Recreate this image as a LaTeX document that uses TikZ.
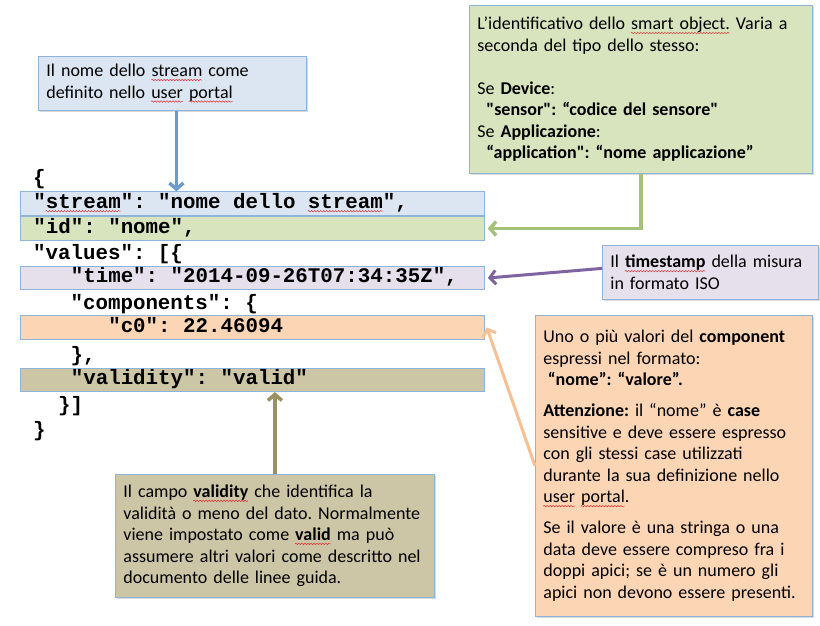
\documentclass[tikz,border=0pt]{standalone}
\usepackage{fontspec}
\setmainfont{Carlito}
\newfontfamily\quotefont{Carlito}
\newfontfamily\jsonfont{Liberation Mono}
\usetikzlibrary{arrows.meta,shadows,decorations.pathmorphing}

\definecolor{streamfill}{HTML}{DCE6F2}
\definecolor{idfill}{HTML}{D7E4BD}
\definecolor{timefill}{HTML}{E5E0EC}
\definecolor{compfill}{HTML}{FCD5B5}
\definecolor{validfill}{HTML}{CCC5A6}
\definecolor{boxline}{HTML}{8EB4DA}
\definecolor{streamarrow}{HTML}{6A9BCB}
\definecolor{idarrow}{HTML}{A6C27A}
\definecolor{timearrow}{HTML}{8064A2}
\definecolor{comparrow}{HTML}{F7BF93}
\definecolor{validarrow}{HTML}{9A9060}
\definecolor{spellred}{HTML}{E03030}

% sottolineatura ondulata rossa (correttore)
\newsavebox\splbox
\newcommand\spl[1]{\sbox\splbox{#1}\usebox\splbox\llap{\tikz[baseline=0pt]
    \draw[spellred, line width=0.5pt, decorate, decoration={snake, amplitude=0.7pt, segment length=3pt}]
    (0pt,-3.2pt) -- (\wd\splbox,-3.2pt);}}

\newcommand\boxfont{\fontsize{18}{21.5}\selectfont\frenchspacing\hyphenpenalty=10000\relax}
\newcommand\codesize{\jsonfont\bfseries\fontsize{20.8}{24}\selectfont}
\newcommand\gap{\hspace*{0.6em}}% uno spazio monospaziato
\newcommand\dq{{\quotefont"}}

\begin{document}
\begin{tikzpicture}[x=1pt, y=-1pt,
    note/.style={draw=boxline, line width=0.8pt, anchor=north west,
        inner xsep=8pt, font=\boxfont,
        drop shadow={shadow xshift=1.5pt, shadow yshift=-1.5pt, opacity=0.3}},
    codeline/.style={anchor=west, text width=438pt, inner xsep=13pt, inner ysep=2.25pt,
        text height=14pt, text depth=5pt, font=\codesize},
    row/.style={codeline, draw=boxline, line width=0.8pt},
    link/.style={line width=3.5pt, -{Straight Barb[length=6pt,width=14pt]}}]
    \useasboundingbox (0,0) rectangle (820,626);

    % Riquadri di commento
    \node[note, fill=streamfill, minimum width=268pt, minimum height=54pt, text width=252pt] (namebox) at (38,56)
        {Il nome dello \spl{stream} come\\ definito nello \spl{user} \spl{portal}};
    \node[note, fill=idfill, minimum width=343pt, minimum height=168pt, text width=327pt] (idbox) at (469,5)
        {L’identificativo dello \spl{smart object.} Varia a\\
         seconda del tipo dello stesso:\\[21.5pt]
         Se \textbf{Device}:\\
         \hspace*{0.5em}\textbf{\dq sensor\dq: “codice del sensore\dq}\\
         Se \textbf{Applicazione}:\\
         \hspace*{0.5em}\textbf{“application\dq: “nome applicazione”}};
    \node[note, fill=timefill, minimum width=216pt, minimum height=54pt, text width=200pt] (tsbox) at (602,245)
        {Il \textbf{\spl{timestamp}} della misura\\ in formato ISO};
    \node[note, fill=compfill, minimum width=277pt, minimum height=301pt, text width=261pt] (compbox) at (535,315)
        {Uno o più valori del \textbf{component}\\
         espressi nel formato:\\
         \hspace*{0.25em}\textbf{“nome”: “valore”.}\\[9.5pt]
         \textbf{Attenzione:} il “nome” è \textbf{case}\\
         sensitive e deve essere espresso\\
         con gli stessi case utilizzati\\
         durante la sua definizione nello\\
         \spl{user} \spl{portal}.\\[9.5pt]
         Se il valore è una stringa o una\\
         data deve essere compreso fra i\\
         doppi apici; se è un numero gli\\
         apici non devono essere presenti.};
    \node[note, fill=validfill, minimum width=319pt, minimum height=123pt, text width=303pt] (validbox) at (115,474)
        {Il campo \textbf{\spl{validity}} che identifica la\\
         validità o meno del dato. Normalmente\\
         viene impostato come \textbf{\spl{valid}} ma può\\
         assumere altri valori come descritto nel\\
         documento delle linee guida.};

    % Messaggio JSON
    \node[codeline] (open) at (20,180) {\{};
    \node[row, fill=streamfill] (stream) at (20,203.5) {"\spl{stream}":\gap"nome\gap dello\gap\spl{stream}",};
    \node[row, fill=idfill] (id) at (20,228.5) {"id":\gap"nome",};
    \node[codeline] (values) at (20,255) {"values":\gap[\{};
    \node[row, fill=timefill] (time) at (20,278) {\hspace*{1.8em}"time":\gap"2014-09-26T07:34:35Z",};
    \node[codeline] (components) at (20,305) {\hspace*{1.8em}"components":\gap\{};
    \node[row, fill=compfill] (c0) at (20,327.5) {\hspace*{3.6em}"c0":\gap 22.46094};
    \node[codeline] (closecomp) at (20,357) {\hspace*{1.8em}\},};
    \node[row, fill=validfill] (validity) at (20,380) {\hspace*{1.8em}"validity":\gap"valid"};
    \node[codeline] (closevalues) at (20,407) {\hspace*{1.2em}\}]};
    \node[codeline] (close) at (20,432) {\}};

    % Frecce
    \draw[link, streamarrow] ([xshift=4pt]namebox.south) -- ([xshift=4pt]namebox.south |- stream.north);
    \draw[link, idarrow] (idbox.south) |- ([xshift=3pt]id.east);
    \draw[link, timearrow, line width=3pt] ([yshift=4pt]tsbox.west) -- ([xshift=3pt]time.east);
    \draw[link, comparrow, line width=3pt] (compbox.west) -- ([xshift=2pt]c0.east);
    \draw[link, validarrow] (validbox.north) -- (validbox.north |- validity.south);
\end{tikzpicture}
\end{document}
